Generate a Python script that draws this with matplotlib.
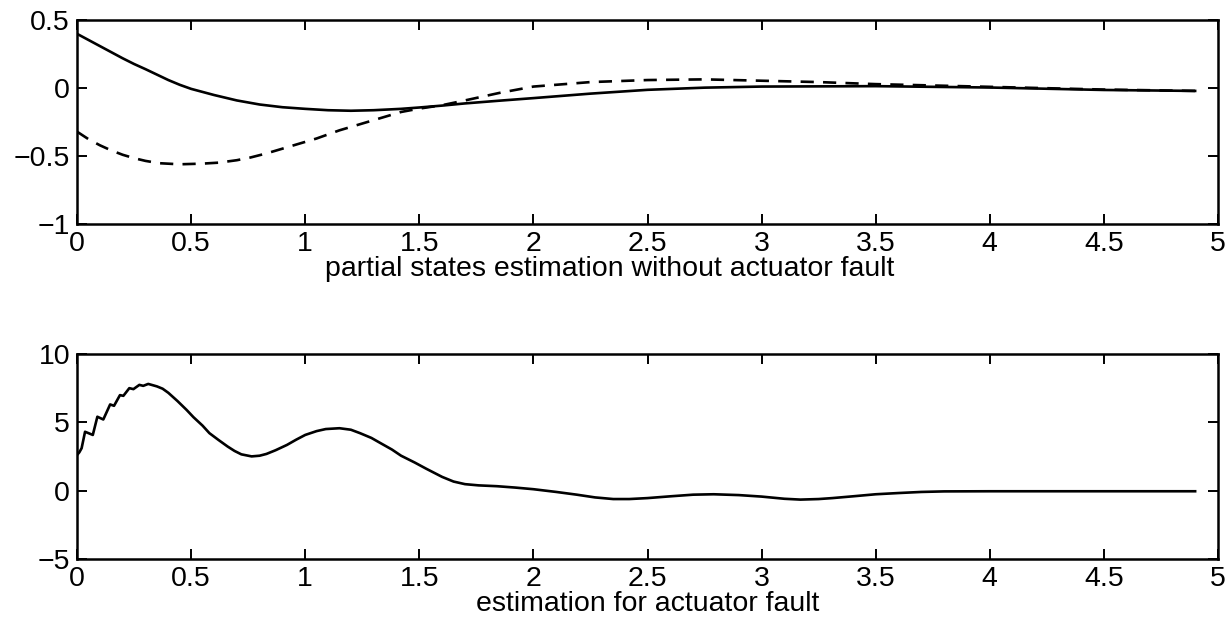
import matplotlib
matplotlib.use("Agg")
import matplotlib.pyplot as plt
from matplotlib.ticker import FuncFormatter

plt.rcParams['font.family'] = ['Liberation Sans', 'DejaVu Sans']

# top: partial states (solid and dashed)
t_solid = [0, 0.05, 0.1, 0.15, 0.2, 0.25, 0.3, 0.35, 0.4, 0.45, 0.5, 0.6, 0.7, 0.8,
           0.9, 1.0, 1.1, 1.2, 1.3, 1.42, 1.5, 1.6, 1.7, 1.85, 2.0, 2.25, 2.5, 2.75,
           3.0, 3.5, 4.0, 4.5, 4.9]
x_solid = [0.40, 0.355, 0.31, 0.265, 0.22, 0.178, 0.14, 0.1, 0.06, 0.025, -0.005,
           -0.05, -0.09, -0.12, -0.14, -0.152, -0.162, -0.166, -0.162, -0.152,
           -0.142, -0.128, -0.112, -0.092, -0.073, -0.04, -0.012, 0.004, 0.012,
           0.015, 0.005, -0.013, -0.02]

t_dash = [0, 0.05, 0.1, 0.15, 0.2, 0.25, 0.3, 0.36, 0.45, 0.55, 0.62, 0.7, 0.76,
          0.83, 0.9, 0.95, 1.05, 1.15, 1.27, 1.42, 1.5, 1.6, 1.7, 1.85, 2.0, 2.25,
          2.5, 2.75, 3.0, 3.25, 3.5, 4.0, 4.5, 4.9]
x_dash = [-0.32, -0.375, -0.42, -0.458, -0.49, -0.515, -0.535, -0.552, -0.56,
          -0.555, -0.548, -0.53, -0.51, -0.48, -0.445, -0.42, -0.37, -0.31, -0.25,
          -0.175, -0.15, -0.125, -0.09, -0.035, 0.012, 0.045, 0.06, 0.065, 0.055,
          0.045, 0.03, 0.01, -0.01, -0.02]

# bottom: actuator fault estimate
t_fault = [0, 0.01, 0.02, 0.035, 0.05, 0.069, 0.089, 0.115, 0.145, 0.162, 0.188,
           0.203, 0.229, 0.247, 0.273, 0.29, 0.312, 0.35, 0.375, 0.40, 0.44, 0.48,
           0.51, 0.55, 0.58, 0.62, 0.66, 0.69, 0.72, 0.765, 0.80, 0.83, 0.87, 0.92,
           0.96, 1.0, 1.05, 1.09, 1.15, 1.2, 1.24, 1.29, 1.33, 1.38, 1.42, 1.48,
           1.53, 1.6, 1.65, 1.7, 1.76, 1.84, 1.92, 2.0, 2.1, 2.19, 2.27, 2.35, 2.42,
           2.5, 2.6, 2.7, 2.79, 2.9, 3.0, 3.1, 3.17, 3.25, 3.31, 3.4, 3.5, 3.6,
           3.7, 3.8, 4.0, 4.5, 4.9]
f_fault = [2.6, 2.8, 3.1, 4.3, 4.2, 4.07, 5.4, 5.2, 6.3, 6.2, 6.98, 6.93, 7.49, 7.42,
           7.73, 7.66, 7.8, 7.62, 7.45, 7.15, 6.55, 5.9, 5.37, 4.75, 4.2, 3.7, 3.22,
           2.9, 2.65, 2.5, 2.55, 2.68, 2.95, 3.34, 3.72, 4.07, 4.35, 4.5, 4.56,
           4.45, 4.2, 3.85, 3.47, 3.0, 2.55, 2.05, 1.6, 1.0, 0.66, 0.47, 0.38, 0.32,
           0.22, 0.1, -0.1, -0.3, -0.5, -0.62, -0.62, -0.55, -0.42, -0.3, -0.27,
           -0.33, -0.44, -0.6, -0.66, -0.62, -0.55, -0.42, -0.27, -0.18, -0.1,
           -0.06, -0.05, -0.05, -0.05]

xticks = [0, 0.5, 1, 1.5, 2, 2.5, 3, 3.5, 4, 4.5, 5]
fmt = FuncFormatter(lambda v, p: ('%g' % v).replace('-', '\u2212'))

fig = plt.figure(figsize=(12.31, 6.33), dpi=100)
ax1 = fig.add_axes([0.0626, 0.646, 0.9268, 0.322])
ax2 = fig.add_axes([0.0626, 0.117, 0.9268, 0.324])

ax1.plot(t_solid, x_solid, color='black', lw=1.9)
ax1.plot(t_dash, x_dash, color='black', lw=1.9, dashes=(5, 3.5))
ax1.set_ylim(-1, 0.5)
ax1.set_yticks([-1, -0.5, 0, 0.5])
ax1.set_xlabel('partial states estimation without actuator fault', fontsize=20.5)
ax1.xaxis.set_label_coords(0.467, -0.155)

ax2.plot(t_fault, f_fault, color='black', lw=1.9)
ax2.set_ylim(-5, 10)
ax2.set_yticks([-5, 0, 5, 10])
ax2.set_xlabel('estimation for actuator fault', fontsize=20.5)
ax2.xaxis.set_label_coords(0.5, -0.155)

for ax in (ax1, ax2):
    ax.set_xlim(0, 5)
    ax.set_xticks(xticks)
    ax.xaxis.set_major_formatter(fmt)
    ax.yaxis.set_major_formatter(fmt)
    ax.tick_params(direction='in', length=7, width=1.4, top=True, right=True,
                   labelsize=20.5, pad=5, colors='black')
    for s in ax.spines.values():
        s.set_linewidth(1.8)

fig.savefig('out.png', dpi=100)
